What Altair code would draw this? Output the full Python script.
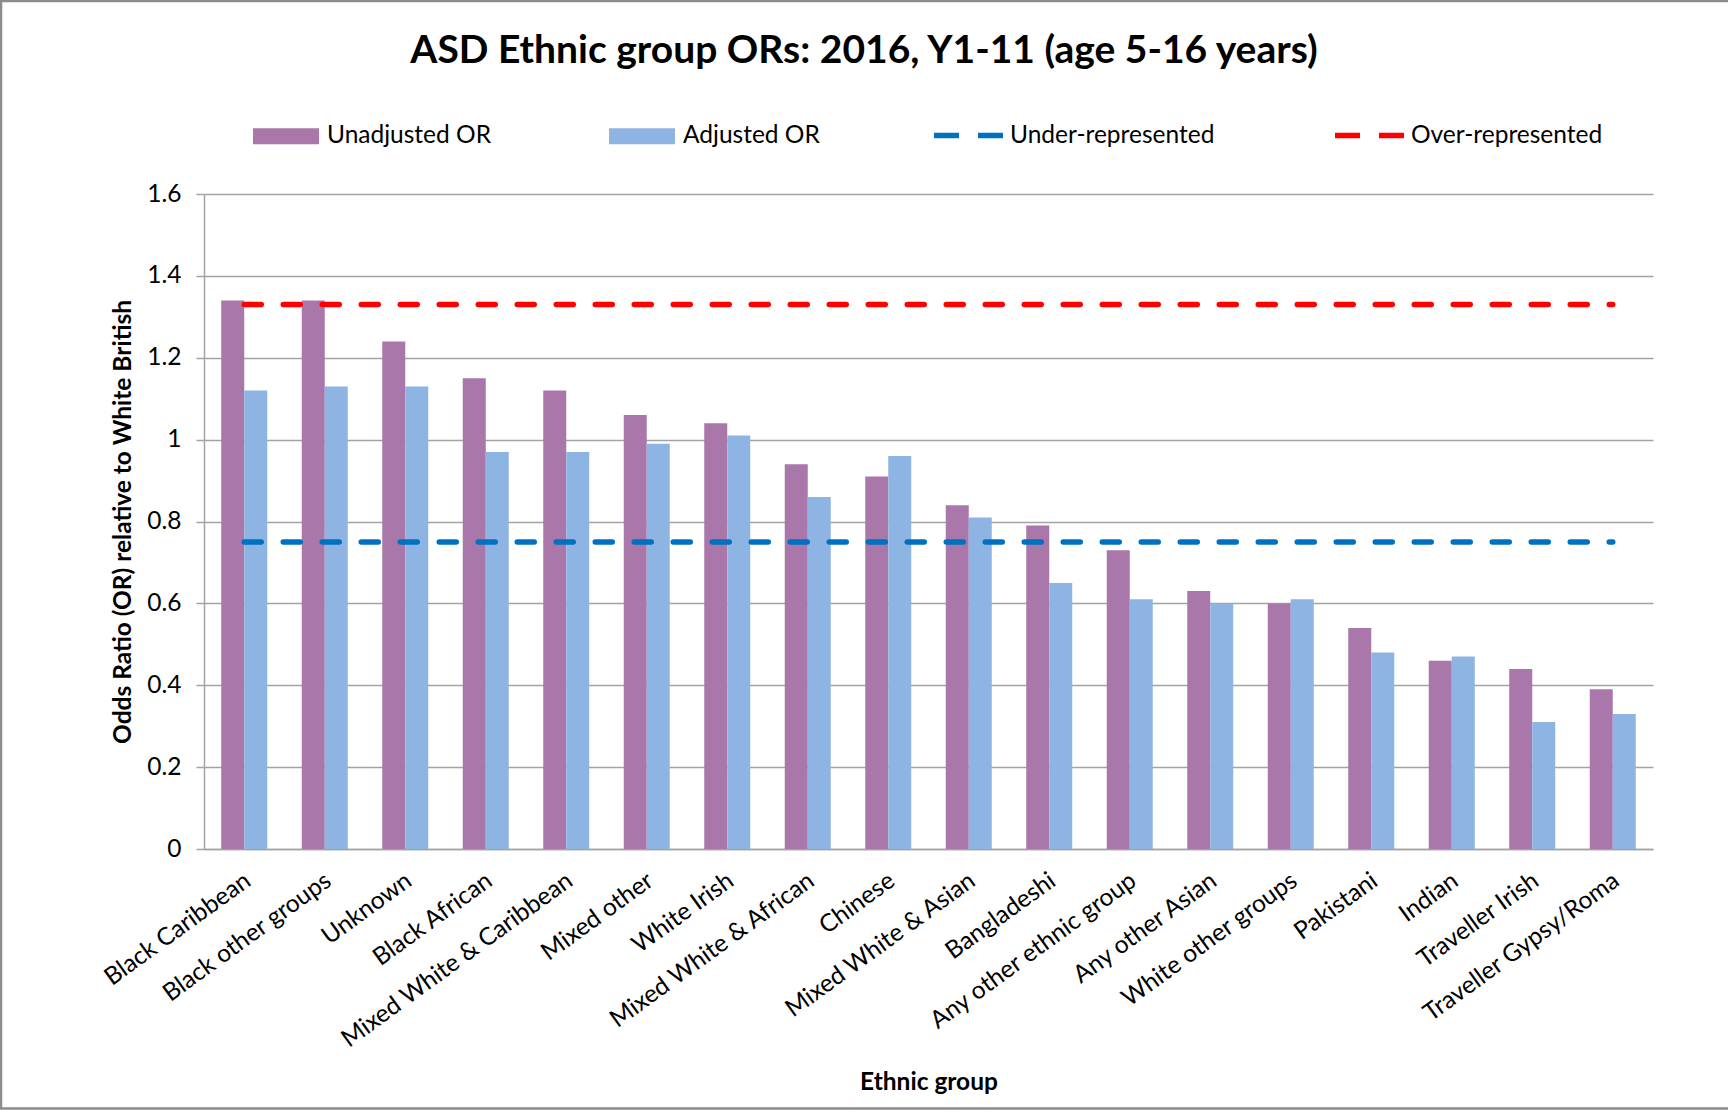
import altair as alt
import pandas as pd

groups = ["Black Caribbean", "Black other groups", "Unknown", "Black African",
          "Mixed White & Caribbean", "Mixed other", "White Irish", "Mixed White & African",
          "Chinese", "Mixed White & Asian", "Bangladeshi", "Any other ethnic group",
          "Any other Asian", "White other groups", "Pakistani", "Indian",
          "Traveller Irish", "Traveller Gypsy/Roma"]
unadjusted = [1.34, 1.34, 1.24, 1.15, 1.12, 1.06, 1.04, 0.94, 0.91, 0.84, 0.79, 0.73,
              0.63, 0.60, 0.54, 0.46, 0.44, 0.39]
adjusted = [1.12, 1.13, 1.13, 0.97, 0.97, 0.99, 1.01, 0.86, 0.96, 0.81, 0.65, 0.61,
            0.60, 0.61, 0.48, 0.47, 0.31, 0.33]
bar_series = ["Unadjusted OR", "Adjusted OR"]
line_series = ["Under-represented", "Over-represented"]
under_value = 0.75
over_value = 1.33
y_ticks = [0, 0.2, 0.4, 0.6, 0.8, 1.0, 1.2, 1.4, 1.6]

bars = pd.DataFrame(
    [{"group": g, "series": bar_series[0], "value": u} for g, u in zip(groups, unadjusted)]
    + [{"group": g, "series": bar_series[1], "value": a} for g, a in zip(groups, adjusted)]
)
lines = pd.DataFrame(
    [{"group": g, "series": line_series[0], "value": under_value} for g in groups]
    + [{"group": g, "series": line_series[1], "value": over_value} for g in groups]
)

FONT = "Lato"
GRID = "#A3A3A3"
W, H = 1449, 655
FS = 24.5

x_enc = alt.X(
    "group:N", sort=groups,
    scale=alt.Scale(paddingInner=0.4286, paddingOuter=0.2143),
    axis=alt.Axis(
        title="Ethnic group", titleFont=FONT, titleFontSize=FS, titleFontWeight="bold",
        titleColor="black", titleX=W / 2, titleY=233, titleBaseline="middle",
        titleAlign="center",
        labelAngle=-36, labelAlign="right", labelBaseline="middle",
        labelFont=FONT, labelFontSize=FS, labelColor="black", labelPadding=29,
        labelOffset=4, ticks=False, tickSize=0, grid=False,
        domainColor=GRID, domainWidth=1.5, labelLimit=400,
    ),
)
y_enc = alt.Y(
    "value:Q",
    scale=alt.Scale(domain=[0, 1.6], nice=False, zero=True),
    axis=alt.Axis(
        title="Odds Ratio (OR) relative to White British", titleFont=FONT,
        titleFontSize=FS, titleFontWeight="bold", titleColor="black",
        titleAngle=270, titleX=-81, titleY=H / 2, titleAlign="center",
        titleBaseline="middle",
        values=y_ticks, format=".1~f", labelFont=FONT, labelFontSize=FS,
        labelColor="black", labelPadding=15, tickSize=8, tickColor=GRID,
        tickWidth=1.5, domainColor=GRID, domainWidth=1.5,
        gridColor=GRID, gridWidth=1.5,
    ),
)

bar_layer = alt.Chart(bars).mark_bar().encode(
    x=x_enc,
    y=y_enc,
    xOffset=alt.XOffset("series:N", sort=bar_series,
                        scale=alt.Scale(paddingInner=0, paddingOuter=0)),
    color=alt.Color(
        "series:N", sort=bar_series,
        scale=alt.Scale(domain=bar_series, range=["#A977A9", "#8EB4E3"]),
        legend=alt.Legend(
            title=None, orient="none", legendX=49, legendY=-91, columns=2,
            columnPadding=118, padding=0, symbolType="M-1,-0.24H1V0.24H-1Z",
            symbolSize=4356, symbolStrokeWidth=0, labelFont=FONT, labelFontSize=FS,
            labelColor="black", labelOffset=8, labelLimit=400,
        ),
    ),
)

line_layer = alt.Chart(lines).mark_line(
    strokeWidth=5.5, strokeDash=[17, 22], strokeCap="round"
).encode(
    x=alt.X("group:N", sort=groups),
    y=alt.Y("value:Q"),
    detail="series:N",
    stroke=alt.Stroke(
        "series:N", sort=line_series,
        scale=alt.Scale(domain=line_series, range=["#0070C0", "#FF0000"]),
        legend=alt.Legend(
            title=None, orient="none", legendX=727, legendY=-96, columns=2,
            columnPadding=109, padding=0, symbolType="stroke", symbolSize=4761,
            symbolStrokeWidth=5.5, symbolDash=[25, 19], labelFont=FONT,
            labelFontSize=FS, labelColor="black", labelOffset=4, labelLimit=400,
        ),
    ),
)

frame = alt.Chart(pd.DataFrame({"k": [0]})).mark_rect(
    fill="transparent", stroke="#8C8C8C", strokeWidth=2.5
).encode(
    x=alt.value(-203), x2=alt.value(1530), y=alt.value(-193), y2=alt.value(914.5)
)

chart = alt.layer(bar_layer, line_layer, frame).resolve_scale(
    color="independent", stroke="independent"
).properties(
    width=W, height=H,
    padding={"left": 204, "top": 194, "right": 75, "bottom": 261},
    autosize=alt.AutoSizeParams(type="none"),
    background="white",
    title=alt.TitleParams(
        text="ASD Ethnic group ORs: 2016, Y1-11 (age 5-16 years)", font=FONT,
        fontSize=39, fontWeight="bold", color="black", anchor="middle",
        dx=-64.5, offset=0, dy=71,
    ),
).configure_view(stroke="transparent")

chart.save("out.html", embed_options={"renderer": "svg", "actions": False})
